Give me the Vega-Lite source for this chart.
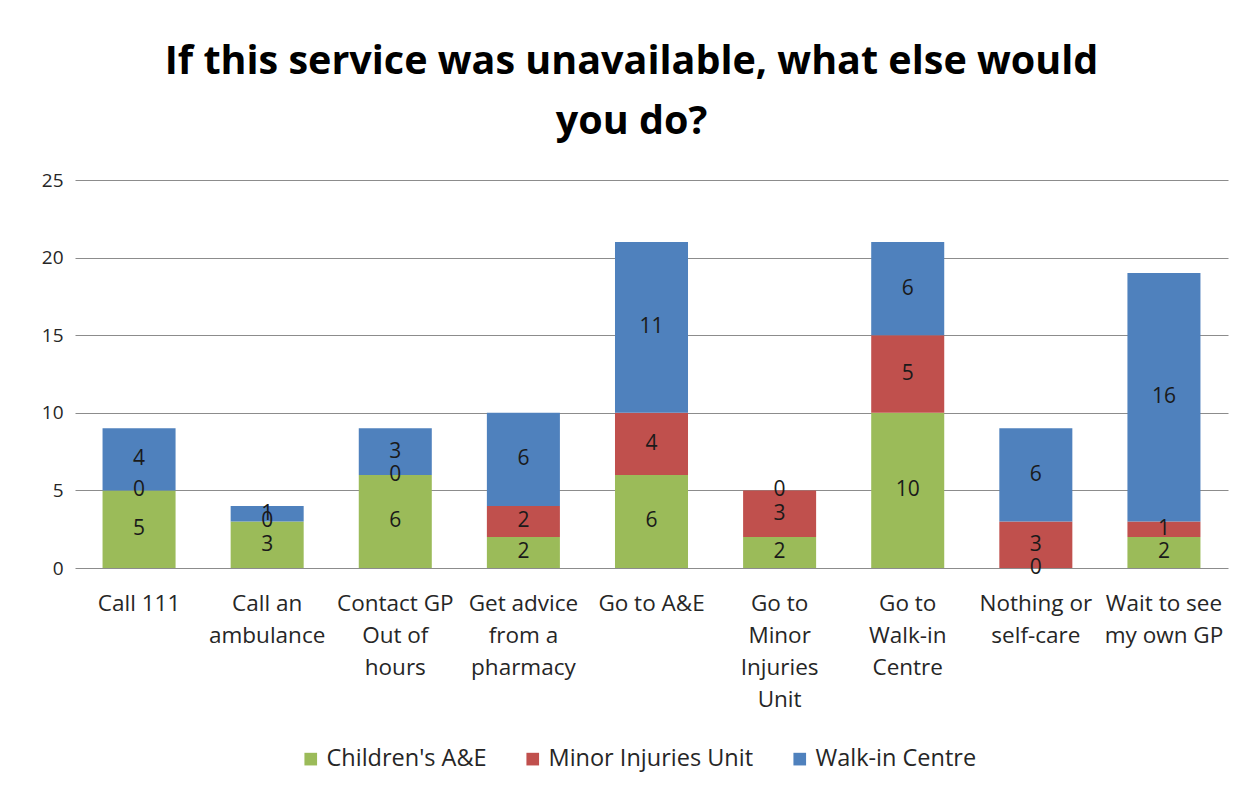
{
  "$schema": "https://vega.github.io/schema/vega-lite/v6.json",
  "width": 1153,
  "height": 388,
  "autosize": {"type": "none"},
  "padding": {"left": 75, "top": 180, "right": 24, "bottom": 224},
  "background": "white",
  "config": {
    "view": {"stroke": null},
    "font": "Open Sans"
  },
  "title": {
    "text": ["If this service was unavailable, what else would", "you do?"],
    "font": "Open Sans",
    "fontSize": 39.5,
    "fontWeight": "bold",
    "color": "#000000",
    "anchor": "middle",
    "dx": -20,
    "offset": 29,
    "lineHeight": 60
  },
  "data": {
    "values": [
      {"option": "Call 111", "series": "Children's A&E", "order": 1, "count": 5},
      {"option": "Call 111", "series": "Minor Injuries Unit", "order": 2, "count": 0},
      {"option": "Call 111", "series": "Walk-in Centre", "order": 3, "count": 4},
      {"option": "Call an ambulance", "series": "Children's A&E", "order": 1, "count": 3},
      {"option": "Call an ambulance", "series": "Minor Injuries Unit", "order": 2, "count": 0},
      {"option": "Call an ambulance", "series": "Walk-in Centre", "order": 3, "count": 1},
      {"option": "Contact GP Out of hours", "series": "Children's A&E", "order": 1, "count": 6},
      {"option": "Contact GP Out of hours", "series": "Minor Injuries Unit", "order": 2, "count": 0},
      {"option": "Contact GP Out of hours", "series": "Walk-in Centre", "order": 3, "count": 3},
      {"option": "Get advice from a pharmacy", "series": "Children's A&E", "order": 1, "count": 2},
      {"option": "Get advice from a pharmacy", "series": "Minor Injuries Unit", "order": 2, "count": 2},
      {"option": "Get advice from a pharmacy", "series": "Walk-in Centre", "order": 3, "count": 6},
      {"option": "Go to A&E", "series": "Children's A&E", "order": 1, "count": 6},
      {"option": "Go to A&E", "series": "Minor Injuries Unit", "order": 2, "count": 4},
      {"option": "Go to A&E", "series": "Walk-in Centre", "order": 3, "count": 11},
      {"option": "Go to Minor Injuries Unit", "series": "Children's A&E", "order": 1, "count": 2},
      {"option": "Go to Minor Injuries Unit", "series": "Minor Injuries Unit", "order": 2, "count": 3},
      {"option": "Go to Minor Injuries Unit", "series": "Walk-in Centre", "order": 3, "count": 0},
      {"option": "Go to Walk-in Centre", "series": "Children's A&E", "order": 1, "count": 10},
      {"option": "Go to Walk-in Centre", "series": "Minor Injuries Unit", "order": 2, "count": 5},
      {"option": "Go to Walk-in Centre", "series": "Walk-in Centre", "order": 3, "count": 6},
      {"option": "Nothing or self-care", "series": "Children's A&E", "order": 1, "count": 0},
      {"option": "Nothing or self-care", "series": "Minor Injuries Unit", "order": 2, "count": 3},
      {"option": "Nothing or self-care", "series": "Walk-in Centre", "order": 3, "count": 6},
      {"option": "Wait to see my own GP", "series": "Children's A&E", "order": 1, "count": 2},
      {"option": "Wait to see my own GP", "series": "Minor Injuries Unit", "order": 2, "count": 1},
      {"option": "Wait to see my own GP", "series": "Walk-in Centre", "order": 3, "count": 16}
    ]
  },
  "transform": [
    {"stack": "count", "groupby": ["option"], "sort": [{"field": "order", "order": "ascending"}], "as": ["y0", "y1"]},
    {"calculate": "(datum.y0 + datum.y1) / 2", "as": "ymid"}
  ],
  "encoding": {
    "x": {
      "field": "option",
      "type": "nominal",
      "sort": null,
      "scale": {"paddingInner": 0.43, "paddingOuter": 0.215},
      "axis": {
        "title": null,
        "labelAngle": 0,
        "labelFont": "Open Sans",
        "labelFontSize": 22.5,
        "labelColor": "#262626",
        "labelPadding": 24,
        "labelLineHeight": 32,
        "labelBaseline": "top",
        "labelLimit": 0,
        "ticks": false,
        "domain": false,
        "labelExpr": "datum.value == 'Call an ambulance' ? ['Call an', 'ambulance'] : datum.value == 'Contact GP Out of hours' ? ['Contact GP', 'Out of', 'hours'] : datum.value == 'Get advice from a pharmacy' ? ['Get advice', 'from a', 'pharmacy'] : datum.value == 'Go to Minor Injuries Unit' ? ['Go to', 'Minor', 'Injuries', 'Unit'] : datum.value == 'Go to Walk-in Centre' ? ['Go to', 'Walk-in', 'Centre'] : datum.value == 'Nothing or self-care' ? ['Nothing or', 'self-care'] : datum.value == 'Wait to see my own GP' ? ['Wait to see', 'my own GP'] : datum.value"
      }
    }
  },
  "layer": [
    {
      "mark": {"type": "bar"},
      "encoding": {
        "y": {
          "field": "y0",
          "type": "quantitative",
          "scale": {"domain": [0, 25], "nice": false},
          "axis": {
            "title": null,
            "values": [0, 5, 10, 15, 20, 25],
            "grid": true,
            "gridColor": "#8c8c8c",
            "gridWidth": 1,
            "domain": false,
            "ticks": false,
            "labelFont": "Open Sans",
            "labelFontSize": 19,
            "labelColor": "#262626",
            "labelPadding": 12
          }
        },
        "y2": {"field": "y1"},
        "color": {
          "field": "series",
          "type": "nominal",
          "scale": {
            "domain": ["Children's A&E", "Minor Injuries Unit", "Walk-in Centre"],
            "range": ["#9bbb59", "#c0504d", "#4f81bd"]
          },
          "legend": {
            "title": null,
            "orient": "none",
            "legendX": 224,
            "legendY": 567,
            "direction": "horizontal",
            "symbolType": "square",
            "symbolSize": 160,
            "symbolStrokeWidth": 0,
            "labelFont": "Open Sans",
            "labelFontSize": 23.5,
            "labelOffset": 4,
            "labelLimit": 0,
            "labelColor": "#262626",
            "columnPadding": 34
          }
        }
      }
    },
    {
      "mark": {"type": "text", "font": "Open Sans", "fontSize": 21, "color": "#1a1a1a", "baseline": "middle"},
      "encoding": {
        "y": {"field": "ymid", "type": "quantitative"},
        "text": {"field": "count", "type": "quantitative"}
      }
    }
  ]
}
